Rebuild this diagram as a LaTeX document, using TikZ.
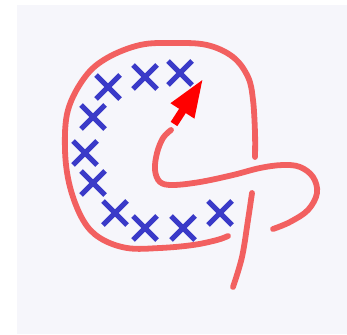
\documentclass[tikz,border=0pt]{standalone}
\usepackage{tikz}
\usetikzlibrary{arrows.meta}
\definecolor{knotred}{RGB}{242,96,96}
\definecolor{markblue}{RGB}{58,58,200}
\definecolor{paper}{RGB}{246,246,251}

\begin{document}
\begin{tikzpicture}[x=0.02cm, y=-0.02cm,
    strand/.style={draw=knotred, line width=3.3pt, line cap=round},
    cross/.style={draw=markblue, line width=3pt},
    push/.style={draw=red, line width=4.5pt, -{Triangle[length=0.76cm, width=0.52cm]}}]
    % paper
    \useasboundingbox (0,0) rectangle (347,334);
    \fill[paper] (17,5) rectangle (347,334);

    % big loop, from the upper end of the vertical strand round to the lower crossing
    \draw[strand] plot[smooth, tension=0.6] coordinates {(255,157) (255,133) (253,100) (248,77) (233,57) (207,45) (173,43) (140,45) (107,58) (85,77) (68,110) (65,150) (70,187) (83,220) (100,238) (127,248) (160,248) (193,245) (217,240) (228,236)};
    % vertical strand, lower part (over)
    \draw[strand] plot[smooth, tension=0.6] coordinates {(233,287) (242,257) (248,220) (252,193)};
    % right lobe and hook
    \draw[strand] plot[smooth, tension=0.6] coordinates {(273,229) (290,222) (308,210) (317,193) (313,177) (300,167) (283,165) (260,168) (233,175) (200,182) (173,185) (160,182) (155,170) (157,153) (163,138) (171,130)};

    % arrow
    \draw[push] (174,124) -- (203,79);

    % marks
    \foreach \px/\py in {108/87, 145/77, 180/73, 93/117, 85/153, 93/183, 115/213, 145/228, 183/228, 220/213}
        \draw[cross] (\px-12,\py-12) -- (\px+12,\py+12) (\px-12,\py+12) -- (\px+12,\py-12);
\end{tikzpicture}
\end{document}
